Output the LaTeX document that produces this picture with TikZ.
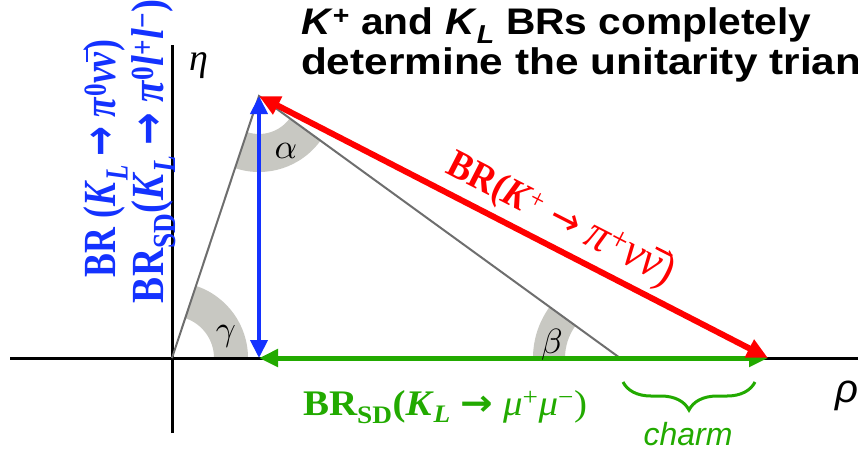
\documentclass[tikz,border=0pt]{standalone}
\usepackage{fontspec}
\usepackage{graphicx}
\setmainfont{Liberation Serif}
\setsansfont{Liberation Sans}
\newfontfamily\arrowfont{DejaVu Sans}
\usetikzlibrary{arrows.meta,calc,decorations.pathreplacing}
\definecolor{kblue}{RGB}{20,50,255}
\definecolor{kred}{RGB}{255,0,0}
\definecolor{kgreen}{RGB}{34,170,0}
\definecolor{kwedge}{RGB}{200,200,194}
\definecolor{kgray}{RGB}{110,110,110}
\newcommand\nubar{\leavevmode\rlap{\hspace{0.16em}\rule[0.58em]{0.42em}{0.055em}}ν}
\newcommand\barrow{{\arrowfont\bfseries →}}
\newcommand\tarrow{{\arrowfont →}}
\tikzset{
  axisline/.style={line width=3pt, black},
  triline/.style={line width=2pt, kgray},
  wedge/.style={fill=kwedge},
  bluearrow/.style={line width=4pt, kblue, {Triangle[length=18pt,width=17pt]}-{Triangle[length=18pt,width=17pt]}},
  redarrow/.style={line width=6pt, kred, {Triangle[length=21pt,width=19pt]}-{Triangle[length=21pt,width=19pt]}},
  greenarrow/.style={line width=5pt, kgreen, {Triangle[length=19pt,width=17pt]}-{Triangle[length=19pt,width=17pt]}},
  txt/.style={inner sep=0pt, outer sep=0pt},
  anglelbl/.style={txt},
}
\begin{document}
\begin{tikzpicture}[x=1pt,y=-1pt]
\useasboundingbox (0,0) rectangle (858,451);
% points
\coordinate (O) at (172,358);
\coordinate (A) at (259,96);
\coordinate (B) at (620,358);
\coordinate (C) at (768,358);
\coordinate (D) at (259,358);
\coordinate (xL) at (10,358);
\coordinate (xR) at (858,358);
\coordinate (yT) at (172,45);
\coordinate (yB) at (172,433);
\coordinate (br1) at (623,382);
\coordinate (br2) at (755,382);
% angle wedges
\fill[wedge] ($(O)+(0:76)$) arc[start angle=0,end angle=-71.76,radius=76]
   -- ($(O)+(-71.76:42)$) arc[start angle=-71.76,end angle=0,radius=42] -- cycle;
\fill[wedge] ($(A)+(35.79:76)$) arc[start angle=35.79,end angle=108.24,radius=76]
   -- ($(A)+(108.24:38)$) arc[start angle=108.24,end angle=35.79,radius=38] -- cycle;
\fill[wedge] ($(B)+(-180:87)$) arc[start angle=-180,end angle=-144.21,radius=87]
   -- ($(B)+(-144.21:55)$) arc[start angle=-144.21,end angle=-180,radius=55] -- cycle;
% axes
\draw[axisline] (xL) -- (xR);
\draw[axisline] (yB) -- (yT);
% triangle
\draw[triline] (O) -- (A) -- (B);
% arrows
\draw[greenarrow] (D) -- (C);
\draw[redarrow] (A) -- (C);
\draw[bluearrow] (A) -- (D);
% brace
\draw[kgreen, line width=3pt, decorate, decoration={brace, amplitude=28pt, mirror}] (br1) -- (br2);
% labels
\node[anglelbl] (alpha) at (286,151) {\scalebox{3.5}{$\alpha$}};
\node[anglelbl] (beta) at (552,345) {\scalebox{3.5}{$\beta$}};
\node[anglelbl] (gamma) at (226,336) {\scalebox{3.5}{$\gamma$}};
\node[txt, font=\fontsize{38}{38}\selectfont\itshape] (eta) at (199,66) {η};
\node[txt, font=\sffamily\itshape\fontsize{40}{40}\selectfont] (rho) at (847,396) {ρ};
\node[txt, anchor=base, text=kgreen, font=\sffamily\itshape\fontsize{32}{32}\selectfont] (charm) at (688,445) {charm};
\node[txt, anchor=base west, text=kgreen, font=\bfseries\fontsize{36}{36}\selectfont] (glbl) at (303,415)
  {\resizebox{284pt}{\height}{BR\textsubscript{SD}(\textit{K}\textsubscript{\textit{L}} \barrow{} \mdseries\textit{μ}\textsuperscript{+}\textit{μ}\textsuperscript{−})}};
\node[txt, anchor=base west, rotate=90, text=kblue, font=\bfseries\fontsize{46}{46}\selectfont] (blue1) at (115,277)
  {\resizebox{237pt}{\height}{BR (\textit{K}\textsubscript{\textit{L}} \barrow{} \textit{π}\textsuperscript{0}\textit{ν\nubar})}};
\node[txt, anchor=base west, rotate=90, text=kblue, font=\bfseries\fontsize{46}{46}\selectfont] (blue2) at (163,303)
  {\resizebox{303pt}{\height}{BR\textsubscript{SD}(\textit{K}\textsubscript{\textit{L}} \barrow{} \textit{π}\textsuperscript{0}\textit{l}\textsuperscript{+}\textit{l}\textsuperscript{−})}};
\node[txt, anchor=base west, rotate=-27.1, text=kred, font=\fontsize{40}{40}\selectfont] (rlbl) at (444,172)
  {\resizebox{250pt}{\height}{\textbf{BR(\textit{K}}\textsuperscript{+}\hspace{0.3em}\tarrow\hspace{0.3em}{\fontsize{48}{48}\selectfont\textit{π}\textsuperscript{+}\textit{ν\nubar})}}};
% title
\begin{scope}
\clip (0,0) rectangle (858,451);
\node[txt, anchor=base west, font=\sffamily\bfseries\fontsize{37}{40}\selectfont] (title1) at (301,34)
  {\scalebox{1.1}[1]{\textit{K}\textsuperscript{+} and \textit{K}\textsubscript{\textit{L}} BRs completely}};
\node[txt, anchor=base west, font=\sffamily\bfseries\fontsize{37}{40}\selectfont] (title2) at (301,74)
  {\scalebox{1.145}[1]{determine the unitarity triangle}};
\end{scope}
\end{tikzpicture}
\end{document}
